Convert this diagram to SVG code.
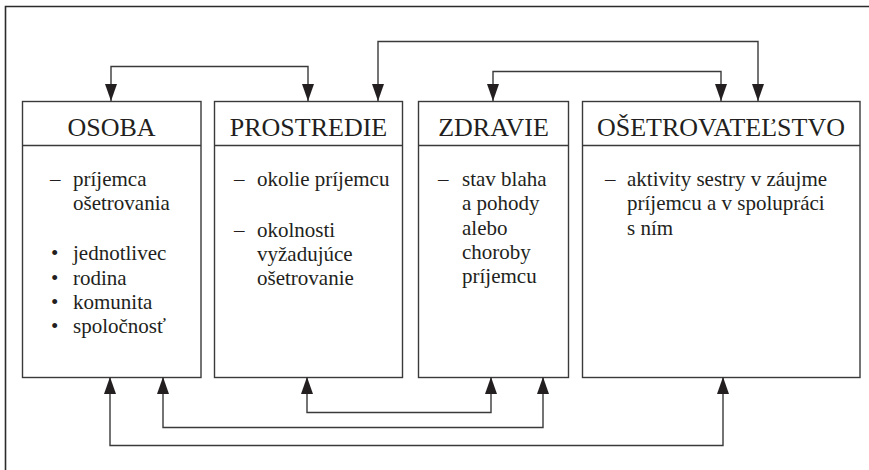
<svg xmlns="http://www.w3.org/2000/svg" width="869" height="470" viewBox="0 0 869 470">
<defs>
<marker id="ah" markerUnits="userSpaceOnUse" markerWidth="17" markerHeight="12" refX="17" refY="6" orient="auto">
<path d="M0,0 L17,6 L0,12 z" fill="#231f20"/>
</marker>
<style>
.box{fill:#fff;stroke:#3a3a3a;stroke-width:1.4}
.hd{font-size:26px;fill:#231f20;text-anchor:middle}
.tx{font-size:21px;fill:#231f20}
.cn{fill:none;stroke:#3a3a3a;stroke-width:1.4;marker-end:url(#ah)}
</style>
</defs>
<rect x="0" y="0" width="869" height="470" fill="#fff"/>
<path d="M5.5,470 L5.5,6.5 L869,6.5" fill="none" stroke="#2b2b2b" stroke-width="1.6"/>

<g font-family="Liberation Serif, DejaVu Serif, serif">
<g id="osoba">
<rect class="box" x="22.5" y="101.5" width="178.5" height="276"/>
<line class="box" x1="22.5" y1="145.5" x2="201" y2="145.5"/>
<text class="hd" x="111.5" y="136">OSOBA</text>
<text class="tx" x="50" y="186">–</text>
<text class="tx" x="73" y="186">príjemca</text>
<text class="tx" x="73" y="210">ošetrovania</text>
<text class="tx" x="51" y="260">•</text>
<text class="tx" x="73" y="260">jednotlivec</text>
<text class="tx" x="51" y="285">•</text>
<text class="tx" x="73" y="285">rodina</text>
<text class="tx" x="51" y="309">•</text>
<text class="tx" x="73" y="309">komunita</text>
<text class="tx" x="51" y="333">•</text>
<text class="tx" x="73" y="333">spoločnosť</text>
</g>

<g id="prostredie">
<rect class="box" x="214.5" y="101.5" width="188" height="276"/>
<line class="box" x1="214.5" y1="145.5" x2="402.5" y2="145.5"/>
<text class="hd" x="308.5" y="136">PROSTREDIE</text>
<text class="tx" x="234" y="186">–</text>
<text class="tx" x="257" y="186">okolie príjemcu</text>
<text class="tx" x="234" y="237">–</text>
<text class="tx" x="257" y="237">okolnosti</text>
<text class="tx" x="257" y="261">vyžadujúce</text>
<text class="tx" x="257" y="285">ošetrovanie</text>
</g>

<g id="zdravie">
<rect class="box" x="418.5" y="101.5" width="150" height="276"/>
<line class="box" x1="418.5" y1="145.5" x2="568.5" y2="145.5"/>
<text class="hd" x="493.5" y="136">ZDRAVIE</text>
<text class="tx" x="438" y="186">–</text>
<text class="tx" x="462" y="186">stav blaha</text>
<text class="tx" x="462" y="210">a pohody</text>
<text class="tx" x="462" y="235">alebo</text>
<text class="tx" x="462" y="259">choroby</text>
<text class="tx" x="462" y="283">príjemcu</text>
</g>

<g id="osetrovatelstvo">
<rect class="box" x="582.5" y="101.5" width="277.5" height="276"/>
<line class="box" x1="582.5" y1="145.5" x2="860" y2="145.5"/>
<text class="hd" x="721" y="136">OŠETROVATEĽSTVO</text>
<text class="tx" x="605" y="186">–</text>
<text class="tx" x="627" y="186">aktivity sestry v záujme</text>
<text class="tx" x="627" y="210">príjemcu a v spolupráci</text>
<text class="tx" x="627" y="235">s ním</text>
</g>
</g>

<g id="connectors">
<path class="cn" d="M210,66.5 L111,66.5 L111,101"/>
<path class="cn" d="M210,66.5 L308,66.5 L308,101"/>
<path class="cn" d="M570,41.5 L378,41.5 L378,101"/>
<path class="cn" d="M570,41.5 L758,41.5 L758,101"/>
<path class="cn" d="M600,71.5 L493,71.5 L493,101"/>
<path class="cn" d="M600,71.5 L721,71.5 L721,101"/>
<path class="cn" d="M400,412.5 L307,412.5 L307,377"/>
<path class="cn" d="M400,412.5 L491,412.5 L491,377"/>
<path class="cn" d="M350,427.5 L163,427.5 L163,377"/>
<path class="cn" d="M350,427.5 L543,427.5 L543,377"/>
<path class="cn" d="M400,445.5 L110,445.5 L110,377"/>
<path class="cn" d="M400,445.5 L723,445.5 L723,377"/>
</g>
</svg>
